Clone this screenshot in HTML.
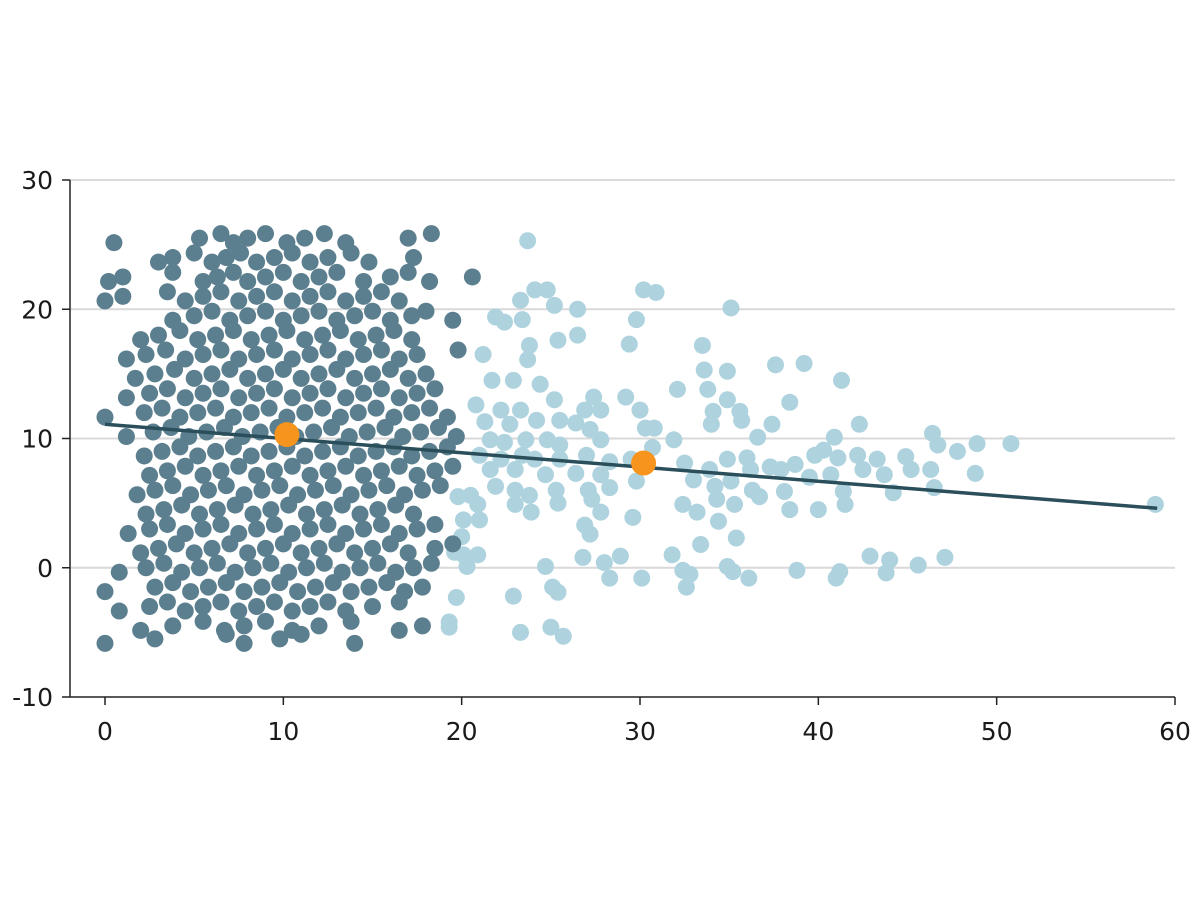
<!DOCTYPE html>
<html><head><meta charset="utf-8"><style>
html,body{margin:0;padding:0;background:#fff;}
svg{display:block;}
text{font-family:"DejaVu Sans","Liberation Sans",sans-serif;font-size:25px;fill:#1a1a1a;}
</style></head><body>
<svg id="chart" width="1200" height="900" viewBox="0 0 1200 900"></svg>
<script>
const xTicks=[0,10,20,30,40,50,60];
const yTicks=[-10,0,10,20,30];
const gridValues=[0,10,20,30];
// dark series: row y-values and x-values per row
const darkRowY=[25.5,24,22.5,21,19.5,18,16.5,15,13.5,12,10.5,9,7.5,6,4.5,3,1.5,0,-1.5,-3,-4.5,-5.5];
const darkRowX=[
[0.5,5.3,6.5,7.2,8.0,9.0,10.2,11.2,12.3,13.5,17.0,18.3],
[3.0,3.8,5.0,6.0,6.8,7.6,8.5,9.5,10.5,11.5,12.5,13.8,14.8,17.3],
[0.2,1.0,3.8,5.5,6.3,7.2,8.0,9.0,10.0,11.0,12.0,13.0,14.5,16.0,17.0,18.2,20.6],
[0,1.0,3.5,4.5,5.5,6.5,7.5,8.5,9.5,10.5,11.5,12.5,13.5,14.5,15.5,16.5],
[3.8,5.0,6.0,7.0,8.0,9.0,10.0,11.0,12.0,13.0,14.0,15.0,16.0,17.2,18.0,19.5],
[2.0,3.0,4.2,5.2,6.2,7.2,8.2,9.2,10.2,11.2,12.2,13.2,14.2,15.2,16.2,17.2],
[1.2,2.3,3.4,4.5,5.5,6.5,7.5,8.5,9.5,10.5,11.5,12.5,13.5,14.5,15.5,16.5,17.5,19.8],
[1.7,2.8,3.9,5.0,6.0,7.0,8.0,9.0,10.0,11.0,12.0,13.0,14.0,15.0,16.0,17.0,18.0],
[1.2,2.5,3.5,4.5,5.5,6.5,7.5,8.5,9.5,10.5,11.5,12.5,13.5,14.5,15.5,16.5,17.5,18.5],
[0,2.2,3.2,4.2,5.2,6.2,7.2,8.2,9.2,10.2,11.2,12.2,13.2,14.2,15.2,16.2,17.2,18.2,19.2],
[1.2,2.7,3.7,4.7,5.7,6.7,7.7,8.7,9.7,10.7,11.7,12.7,13.7,14.7,15.7,16.7,17.7,18.7,19.7],
[2.2,3.2,4.2,5.2,6.2,7.2,8.2,9.2,10.2,11.2,12.2,13.2,14.2,15.2,16.2,17.2,18.2,19.2],
[2.5,3.5,4.5,5.5,6.5,7.5,8.5,9.5,10.5,11.5,12.5,13.5,14.5,15.5,16.5,17.5,18.5,19.5],
[1.8,2.8,3.8,4.8,5.8,6.8,7.8,8.8,9.8,10.8,11.8,12.8,13.8,14.8,15.8,16.8,17.8,18.8],
[2.3,3.3,4.3,5.3,6.3,7.3,8.3,9.3,10.3,11.3,12.3,13.3,14.3,15.3,16.3,17.3],
[1.3,2.5,3.5,4.5,5.5,6.5,7.5,8.5,9.5,10.5,11.5,12.5,13.5,14.5,15.5,16.5,17.5,18.5],
[2.0,3.0,4.0,5.0,6.0,7.0,8.0,9.0,10.0,11.0,12.0,13.0,14.0,15.0,16.0,17.0,18.5,19.5],
[0.8,2.3,3.3,4.3,5.3,6.3,7.3,8.3,9.3,10.3,11.3,12.3,13.3,14.3,15.3,16.3,17.3,18.3],
[0,2.8,3.8,4.8,5.8,6.8,7.8,8.8,9.8,10.8,11.8,12.8,13.8,14.8,15.8,16.8,17.8],
[0.8,2.5,3.5,4.5,5.5,6.5,7.5,8.5,9.5,10.5,11.5,12.5,13.5,15.0,16.5],
[2.0,3.8,5.5,6.7,7.8,9.0,10.5,12.0,13.8,16.5,17.8],
[0,2.8,6.8,7.8,9.8,11.0,14.0]];
const lightPts=[[23.7,25.3],[23.3,20.7],[24.1,21.5],[24.8,21.5],[25.2,20.3],[26.5,20.0],[21.9,19.4],[22.4,19.0],[23.4,19.2],[25.4,17.6],[26.5,18.0],[30.2,21.5],[30.9,21.3],[29.8,19.2],[35.1,20.1],[29.4,17.3],[21.2,16.5],[23.8,17.2],[23.7,16.1],[33.5,17.2],[33.6,15.3],[34.9,15.2],[37.6,15.7],[39.2,15.8],[41.3,14.5],[21.7,14.5],[22.9,14.5],[24.4,14.2],[27.4,13.2],[29.2,13.2],[32.1,13.8],[33.8,13.8],[34.9,13.0],[38.4,12.8],[20.8,12.6],[22.2,12.2],[23.3,12.2],[25.2,13.0],[26.9,12.2],[27.8,12.2],[30.0,12.2],[34.1,12.1],[35.6,12.1],[21.3,11.3],[22.7,11.1],[24.2,11.4],[25.5,11.4],[26.4,11.2],[27.2,10.7],[30.3,10.8],[30.8,10.8],[34.0,11.1],[35.7,11.4],[37.4,11.1],[40.9,10.1],[42.3,11.1],[21.6,9.9],[22.4,9.7],[23.6,9.9],[24.8,9.9],[25.5,9.5],[27.8,9.9],[31.9,9.9],[36.6,10.1],[39.8,8.7],[40.3,9.1],[46.4,10.4],[46.7,9.5],[48.9,9.6],[50.8,9.6],[21.0,8.7],[22.2,8.4],[23.4,8.7],[24.1,8.4],[25.5,8.4],[27.0,8.7],[28.3,8.2],[29.5,8.4],[30.7,9.3],[32.5,8.1],[34.9,8.4],[36.0,8.5],[37.3,7.8],[38.7,8.0],[41.1,8.5],[42.2,8.7],[43.3,8.4],[44.9,8.6],[47.8,9.0],[21.6,7.6],[23.0,7.6],[24.7,7.2],[26.4,7.3],[27.8,7.2],[29.8,6.7],[33.0,6.8],[33.9,7.6],[35.1,6.7],[36.2,7.6],[37.9,7.6],[39.5,7.0],[40.7,7.2],[42.5,7.6],[43.7,7.2],[45.2,7.6],[46.3,7.6],[48.8,7.3],[19.8,5.5],[20.5,5.6],[21.9,6.3],[23.0,6.0],[23.8,5.6],[25.3,6.0],[27.1,6.0],[28.3,6.2],[34.2,6.3],[36.3,6.0],[38.1,5.9],[41.4,5.9],[44.2,5.8],[46.5,6.2],[58.9,4.9],[20.9,4.9],[23.0,4.9],[25.4,5.0],[27.3,5.3],[27.8,4.3],[32.4,4.9],[33.2,4.3],[34.3,5.3],[35.3,4.9],[36.7,5.5],[38.4,4.5],[40.0,4.5],[41.5,4.9],[20.1,3.7],[21.0,3.7],[23.9,4.3],[26.9,3.3],[29.6,3.9],[34.4,3.6],[20.0,2.4],[27.2,2.6],[33.4,1.8],[35.4,2.3],[19.6,1.2],[20.1,1.0],[20.9,1.0],[26.8,0.8],[28.9,0.9],[28.0,0.4],[24.7,0.1],[20.3,0.1],[31.8,1.0],[42.9,0.9],[44.0,0.6],[47.1,0.8],[45.6,0.2],[32.4,-0.2],[32.8,-0.5],[34.9,0.1],[35.2,-0.3],[38.8,-0.2],[41.2,-0.3],[43.8,-0.4],[28.3,-0.8],[30.1,-0.8],[36.1,-0.8],[41.0,-0.8],[25.1,-1.5],[25.4,-1.9],[32.6,-1.5],[19.7,-2.3],[22.9,-2.2],[19.3,-4.2],[19.3,-4.6],[25.0,-4.6],[23.3,-5.0],[25.7,-5.3]];
const meanPts=[[10.2,10.3],[30.2,8.1]];
const trendX=[0,59];
const trendY=[11.1,4.6];

const NS="http://www.w3.org/2000/svg";
const svg=document.getElementById('chart');
const X0=105,X1=1175,Y0=697,Y1=180;
const sx=v=>X0+(v-0)/(60-0)*(X1-X0);
const sy=v=>Y0-(v+10)/(40)*(Y0-Y1);
function mk(tag,attrs,parent){const e=document.createElementNS(NS,tag);for(const k in attrs)e.setAttribute(k,attrs[k]);(parent||svg).appendChild(e);return e;}

const grid=mk('g',{});


gridValues.forEach(v=>{const l=mk('line',{x1:70,x2:1175,y1:sy(v),y2:sy(v),stroke:'#d9d9d9','stroke-width':2},grid);

});

const lightG=mk('g',{fill:'#aed3de'});


lightPts.forEach(p=>{const c=mk('circle',{cx:sx(p[0]),cy:sy(p[1]),r:8.5},lightG);

});

const darkG=mk('g',{fill:'#5b7f8e'});


darkRowY.forEach((y,i)=>darkRowX[i].forEach((x,j)=>{const c=mk('circle',{cx:sx(x),cy:sy(y+((j%3)-1)*0.35),r:8.5},darkG);

}));

const tl=mk('line',{x1:sx(trendX[0]),y1:sy(trendY[0]),x2:sx(trendX[1]),y2:sy(trendY[1]),stroke:'#2a4e5a','stroke-width':3.5});



meanPts.forEach(p=>{const c=mk('circle',{cx:sx(p[0]),cy:sy(p[1]),r:12.5,fill:'#f7941d'});

});

const ax=mk('g',{stroke:'#222','stroke-width':1.5});


mk('line',{x1:70,x2:70,y1:Y1,y2:Y0},ax);
mk('line',{x1:70,x2:X1,y1:Y0,y2:Y0},ax);
yTicks.forEach(v=>{mk('line',{x1:62,x2:70,y1:sy(v),y2:sy(v)},ax);
const t=mk('text',{x:53,y:sy(v)+9,'text-anchor':'end'});t.textContent=v;

});
xTicks.forEach(v=>{mk('line',{x1:sx(v),x2:sx(v),y1:Y0,y2:Y0+8},ax);
const t=mk('text',{x:sx(v),y:740,'text-anchor':'middle'});t.textContent=v;

});
</script>
</body></html>
